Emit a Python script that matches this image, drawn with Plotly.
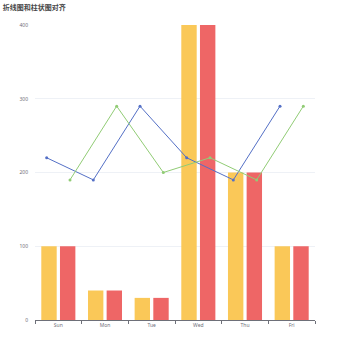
import plotly.graph_objects as go

days = ["Sun", "Mon", "Tue", "Wed", "Thu", "Fri"]
bar_a = [100, 40, 30, 400, 200, 100]
bar_b = [100, 40, 30, 400, 200, 100]
line_a = [220, 190, 290, 220, 190, 290]
line_b = [190, 290, 200, 220, 190, 290]

idx = list(range(len(days)))
# lines are shifted so each point sits over its bar within the group
line_a_x = [i - 0.25 for i in idx]
line_b_x = [i + 0.25 for i in idx]

fig = go.Figure()
fig.add_trace(go.Bar(x=idx, y=bar_a, marker=dict(color="#fac858", line=dict(width=0))))
fig.add_trace(go.Bar(x=idx, y=bar_b, marker=dict(color="#ee6666", line=dict(width=0))))
fig.add_trace(go.Scatter(x=line_a_x, y=line_a, mode="lines+markers",
                         line=dict(color="#5470c6", width=1),
                         marker=dict(size=3, color="#5470c6")))
fig.add_trace(go.Scatter(x=line_b_x, y=line_b, mode="lines+markers",
                         line=dict(color="#91cc75", width=1),
                         marker=dict(size=3, color="#91cc75")))

fig.update_layout(
    width=350, height=350,
    margin=dict(l=35, r=35, t=25, b=30),
    paper_bgcolor="white", plot_bgcolor="white",
    showlegend=False,
    barmode="group", bargap=0.2, bargroupgap=0.175,
    title=dict(text="<b>折线图和柱状图对齐</b>", x=0.008, xanchor="left", y=0.985, yanchor="top",
               font=dict(family="Noto Sans CJK SC", size=7, color="#464646")),
    font=dict(family="Noto Sans", size=5, color="#6E7079"),
)
fig.update_xaxes(
    range=[-0.5, 5.5], tickmode="array", tickvals=idx, ticktext=days,
    ticks="", showgrid=False, zeroline=False,
    showline=True, linecolor="#6E7079", linewidth=1,
    minor=dict(tick0=-0.5, dtick=1, ticks="outside", ticklen=3, tickcolor="#6E7079", showgrid=False),
    tickfont=dict(size=5, color="#6E7079"),
)
fig.update_yaxes(
    range=[0, 400], tickvals=[0, 100, 200, 300, 400],
    showgrid=True, gridcolor="#EEF1F6", gridwidth=1, zeroline=False,
    showline=False, ticks="", tickfont=dict(size=5, color="#6E7079"),
    ticklabelstandoff=6,
)

fig.write_html("out.html")
